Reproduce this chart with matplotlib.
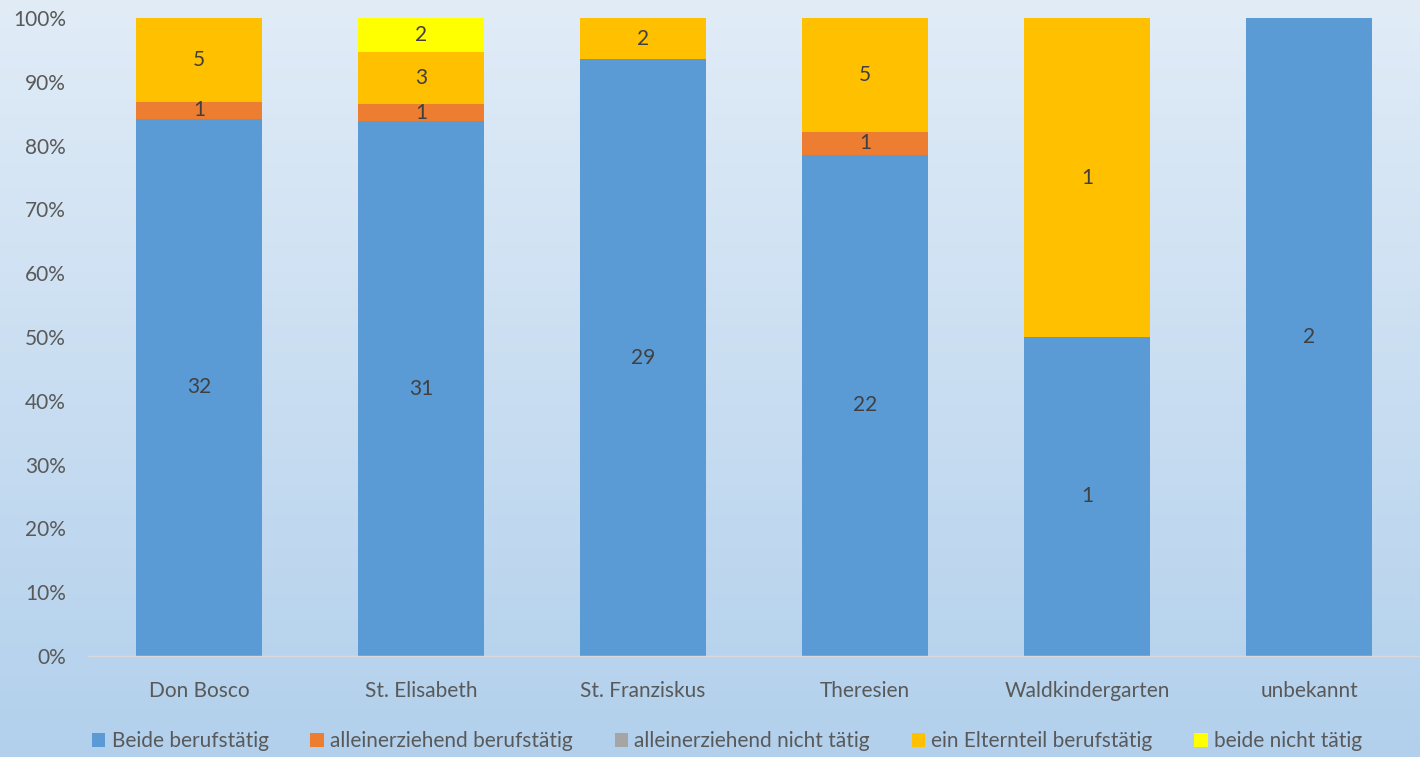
import numpy as np
import matplotlib.pyplot as plt
from matplotlib.patches import Patch

plt.rcParams['font.family'] = ['Lato', 'DejaVu Sans']

categories = ["Don Bosco", "St. Elisabeth", "St. Franziskus", "Theresien", "Waldkindergarten", "unbekannt"]
series_names = ["Beide berufstätig", "alleinerziehend berufstätig", "alleinerziehend nicht tätig",
                "ein Elternteil berufstätig", "beide nicht tätig"]
beide = [32, 31, 29, 22, 1, 2]
allein_beruf = [1, 1, 0, 1, 0, 0]
allein_nicht = [0, 0, 0, 0, 0, 0]
ein_eltern = [5, 3, 2, 5, 1, 0]
beide_nicht = [0, 2, 0, 0, 0, 0]
colors = ["#5B9BD5", "#ED7D31", "#A5A5A5", "#FFC000", "#FFFF00"]

series = np.array([beide, allein_beruf, allein_nicht, ein_eltern, beide_nicht], dtype=float)
totals = series.sum(axis=0)
shares = series / totals * 100

fig = plt.figure(figsize=(14.2, 7.57), dpi=100)

# gradient background
bg = fig.add_axes([0, 0, 1, 1], zorder=-10)
grad = np.linspace(0, 1, 256).reshape(-1, 1)
top = np.array([0xE1, 0xEC, 0xF7]) / 255
bot = np.array([0xB2, 0xD0, 0xEC]) / 255
img = top[None, None, :] * (1 - grad[:, :, None]) + bot[None, None, :] * grad[:, :, None]
bg.imshow(img, aspect='auto', extent=[0, 1, 0, 1], origin='upper')
bg.axis('off')

ax = fig.add_axes([88 / 1420, 1 - 656 / 757, 1 - 88 / 1420, (656 - 18) / 757])
ax.patch.set_alpha(0)

x = np.arange(len(categories))
bottom = np.zeros(len(categories))
for i, name in enumerate(series_names):
    ax.bar(x, shares[i], 0.57, bottom=bottom, color=colors[i], label=name, zorder=2)
    for j in range(len(categories)):
        if series[i, j] > 0:
            ax.text(x[j], bottom[j] + shares[i, j] / 2, f"{int(series[i, j])}",
                    ha='center', va='center', fontsize=15, color='#404040', zorder=3)
    bottom += shares[i]

ax.set_xlim(-0.5, len(categories) - 0.5)
ax.set_ylim(0, 100)
ax.set_yticks(np.arange(0, 101, 10))
ax.set_yticklabels([f"{v}%" for v in range(0, 101, 10)])
ax.set_xticks(x)
ax.set_xticklabels(categories)
ax.tick_params(axis='both', length=0, labelsize=15, labelcolor='#595959')
ax.tick_params(axis='x', pad=18)
ax.tick_params(axis='y', pad=16)
for s in ['top', 'right', 'left']:
    ax.spines[s].set_visible(False)
ax.spines['bottom'].set_color('#D9D9D9')
ax.spines['bottom'].set_linewidth(1)

handles = [Patch(facecolor=c, label=n) for c, n in zip(colors, series_names)]
fig.legend(handles=handles, loc='center', bbox_to_anchor=(0.512, 1 - 741 / 757), ncol=5,
           frameon=False, fontsize=15, labelcolor='#595959', handlelength=0.65, handleheight=0.65,
           handletextpad=0.3, columnspacing=2.0)

fig.savefig("out.png", dpi=100)
